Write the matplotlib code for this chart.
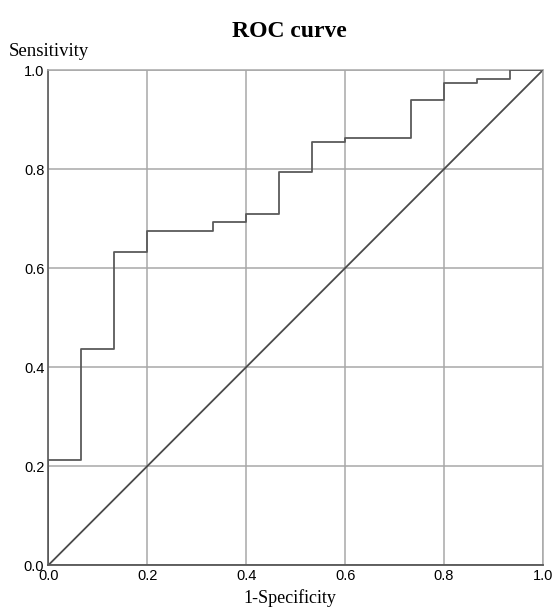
import numpy as np
import matplotlib
matplotlib.use("Agg")
import matplotlib.pyplot as plt

# step points of the ROC curve (1-specificity, sensitivity)
fpr = [0.0, 0.0, 0.0667, 0.0667, 0.1333, 0.1333, 0.2, 0.2, 0.3333, 0.3333,
       0.4, 0.4, 0.4667, 0.4667, 0.5333, 0.5333, 0.6, 0.6, 0.7333, 0.7333,
       0.8, 0.8, 0.8667, 0.8667, 0.9333, 0.9333, 1.0]
tpr = [0.0, 0.213, 0.213, 0.436, 0.436, 0.633, 0.633, 0.675, 0.675, 0.692,
       0.692, 0.710, 0.710, 0.795, 0.795, 0.855, 0.855, 0.863, 0.863, 0.940,
       0.940, 0.974, 0.974, 0.982, 0.982, 1.0, 1.0]
ticks = [0.0, 0.2, 0.4, 0.6, 0.8, 1.0]
tick_labels = ["0.0", "0.2", "0.4", "0.6", "0.8", "1.0"]

fig = plt.figure(figsize=(5.53, 6.09), dpi=100)
ax = fig.add_axes([0.0877, 0.0722, 0.8941, 0.8128])

grid_col = "#a8a8a8"
for t in ticks:
    ax.axhline(t, color=grid_col, lw=1.1, zorder=1)
    ax.axvline(t, color=grid_col, lw=1.1, zorder=1)

ax.plot([0, 1], [0, 1], color="#4a4a4a", lw=1.3, zorder=2)
ax.plot(fpr, tpr, color="#5a5a5a", lw=1.3, zorder=3)

ax.set_xlim(0, 1)
ax.set_ylim(0, 1)
ax.set_xticks(ticks)
ax.set_yticks(ticks)
ax.set_xticklabels(tick_labels, family="Liberation Sans", fontsize=10.5)
ax.set_yticklabels(tick_labels, family="Liberation Sans", fontsize=10.5)
ax.tick_params(length=0, pad=3)

for s in ["top", "right"]:
    ax.spines[s].set_color(grid_col)
    ax.spines[s].set_linewidth(1.1)
ax.spines["left"].set_color("#666666")
ax.spines["bottom"].set_color("#555555")
ax.spines["left"].set_linewidth(1.3)
ax.spines["bottom"].set_linewidth(1.3)

fig.text(0.524, 0.948, "ROC curve", family="Liberation Serif", fontweight="bold",
         fontsize=17, ha="center", va="center")
fig.text(0.016, 0.916, "Sensitivity", family="Liberation Serif", fontsize=13.5,
         ha="left", va="center")
fig.text(0.524, 0.018, "1-Specificity", family="Liberation Serif", fontsize=13,
         ha="center", va="center")

fig.savefig("out.png", dpi=100)
